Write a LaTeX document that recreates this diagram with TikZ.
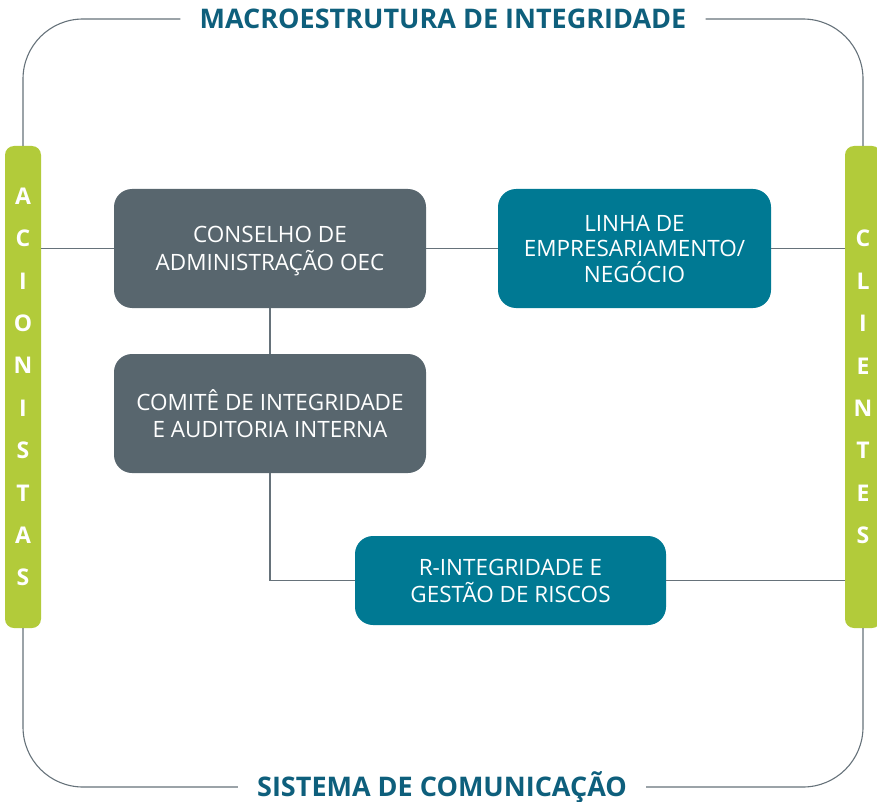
\documentclass[tikz,border=0pt]{standalone}
\usepackage{fontspec}
\setmainfont{Open Sans}
\usetikzlibrary{positioning}

\definecolor{boxgray}{HTML}{58666E}
\definecolor{boxteal}{HTML}{007993}
\definecolor{titleteal}{HTML}{0E5F7C}
\definecolor{linegray}{HTML}{66727A}
\definecolor{bargreen}{HTML}{B2CB3A}

\begin{document}
\begin{tikzpicture}[x=1pt,y=-1pt,
            box/.style={rounded corners=18pt,minimum width=312pt,minimum height=119pt,align=center,text=white,text depth=0pt,font=\fontsize{22.5}{28}\selectfont},
            graybox/.style={box,fill=boxgray},
            tealbox/.style={box,fill=boxteal},
            bar/.style={fill=bargreen,rounded corners=9pt,minimum width=36pt,minimum height=482pt,text=white,align=center,font=\bfseries\fontsize{23}{42.4}\selectfont},
            title/.style={text=titleteal,font=\bfseries\fontsize{27}{30}\selectfont,inner xsep=19pt,text height=19pt,text depth=0pt},
            link/.style={draw=linegray,line width=1.1pt}
          ]
          \useasboundingbox (0,0) rectangle (877,802);

          %bars
          \node[bar] (acionistas) at (23,387) {A\\C\\I\\O\\N\\I\\S\\T\\A\\S};
          \node[bar] (clientes) at (863,387) {C\\L\\I\\E\\N\\T\\E\\S};

          %titles
          \node[title] (macro) at (443,19) {MACROESTRUTURA DE INTEGRIDADE};
          \node[title] (sistema) at (442,787) {SISTEMA DE COMUNICAÇÃO};

          %boxes
          \node[graybox] (conselho) at (270,248.5) {CONSELHO DE\\ADMINISTRAÇÃO OEC};
          \node[tealbox,minimum width=273pt,font=\fontsize{22.5}{25.5}\selectfont] (linha) at (634.5,248.5) {LINHA DE\\EMPRESARIAMENTO/\\NEGÓCIO};
          \node[graybox,font=\fontsize{22.5}{27}\selectfont] (comite) at (270,413.5) {COMITÊ DE INTEGRIDADE\\E AUDITORIA INTERNA};
          \node[tealbox,minimum width=311pt,minimum height=89pt,font=\fontsize{22.5}{27}\selectfont] (risco) at (510.5,580.5) {R-INTEGRIDADE E\\GESTÃO DE RISCOS};

          %frame
          \draw[link,rounded corners=60pt] (acionistas.north) |- (macro.west);
          \draw[link,rounded corners=60pt] (clientes.north) |- (macro.east);
          \draw[link,rounded corners=60pt] (acionistas.south) |- (sistema.west);
          \draw[link,rounded corners=60pt] (clientes.south) |- (sistema.east);

          %links
          \draw[link] (acionistas.east |- conselho.west) -- (conselho.west);
          \draw[link] (conselho) -- (linha);
          \draw[link] (linha.east) -- (linha.east -| clientes.west);
          \draw[link] (conselho) -- (comite);
          \draw[link] (comite.south) |- (risco.west);
          \draw[link] (risco.east) -- (risco.east -| clientes.west);

      \end{tikzpicture}
\end{document}
